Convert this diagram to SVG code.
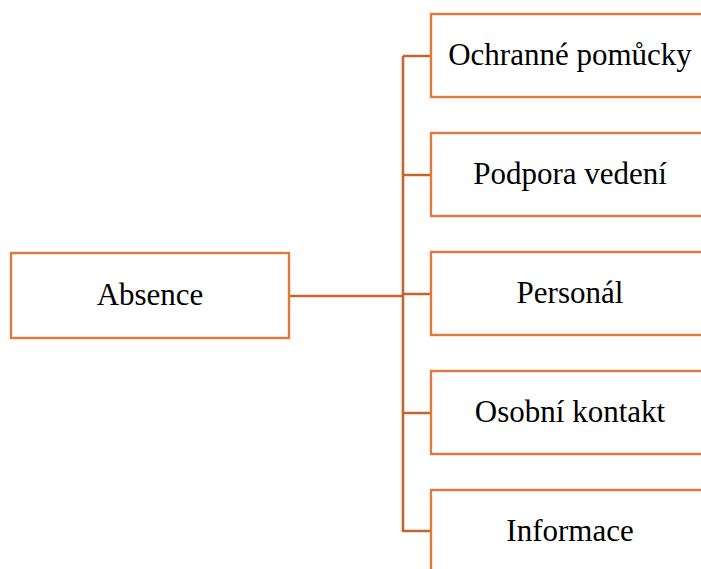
<svg xmlns="http://www.w3.org/2000/svg" width="701" height="569" viewBox="0 0 701 569">
<style>
.box{fill:#fff;stroke:#E2793A;stroke-width:2.4}
.lbl{font-family:"Liberation Serif","Times New Roman",serif;font-size:31px;fill:#000;text-anchor:middle}
.conn{fill:none;stroke:#C5652B;stroke-width:2.6}
</style>
<rect width="701" height="569" fill="#fff"/>
<g id="connectors">
<path class="conn" d="M289 296H403M403 56V532M403 56H431M403 175H431M403 294H431M403 413H431M403 531H431"/>
</g>
<g id="absence"><rect class="box" x="11" y="253" width="278" height="85"/><text class="lbl" x="150" y="305">Absence</text></g>
<g id="ochranne"><rect class="box" x="431" y="14" width="280" height="83"/><text class="lbl" x="570" y="65">Ochranné pomůcky</text></g>
<g id="podpora"><rect class="box" x="431" y="133" width="280" height="83"/><text class="lbl" x="570" y="184">Podpora vedení</text></g>
<g id="personal"><rect class="box" x="431" y="252" width="280" height="83"/><text class="lbl" x="570" y="303">Personál</text></g>
<g id="osobni"><rect class="box" x="431" y="371" width="280" height="83"/><text class="lbl" x="570" y="422">Osobní kontakt</text></g>
<g id="informace"><rect class="box" x="431" y="490" width="280" height="83"/><text class="lbl" x="570" y="541">Informace</text></g>
</svg>
